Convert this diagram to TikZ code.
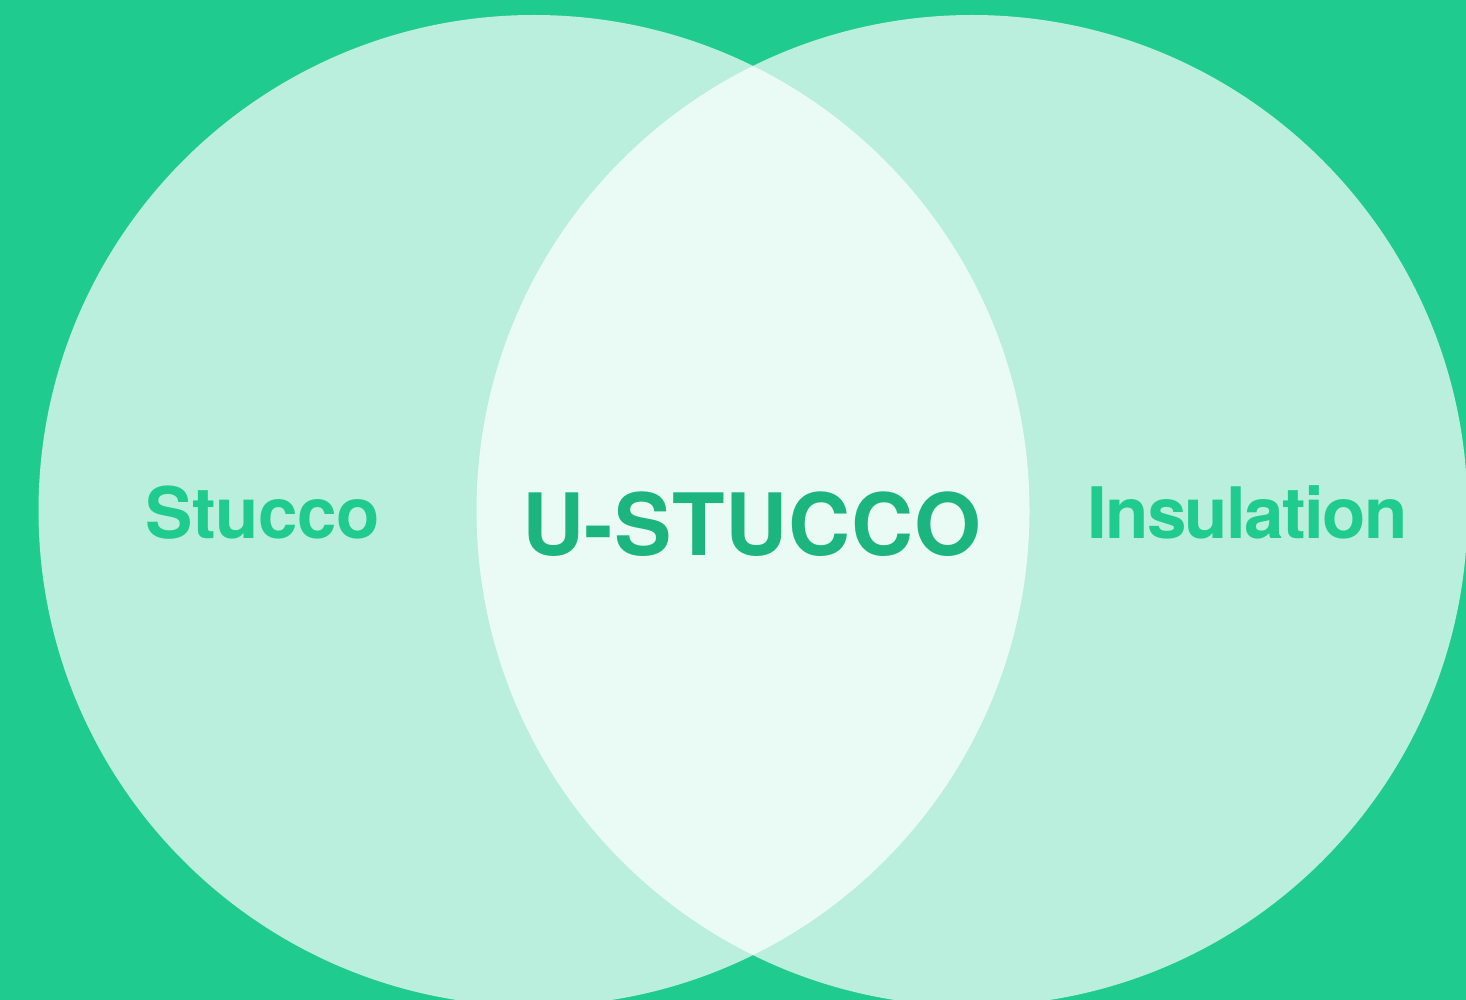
\documentclass[tikz,border=0pt]{standalone}
\usepackage{fontspec}
\setmainfont{TeX Gyre Heros}
\definecolor{bggreen}{HTML}{20CB8F}
\definecolor{circlefill}{HTML}{B9EFDC}
\definecolor{lensfill}{HTML}{EAFBF5}
\definecolor{textgreen}{HTML}{20CB8F}
\definecolor{darkgreen}{HTML}{1CB580}
\tikzset{
  setlabel/.style={anchor=base, inner sep=0pt, text=textgreen, font=\bfseries\fontsize{71}{71}\selectfont},
  mainlabel/.style={anchor=base, inner sep=0pt, text=darkgreen, font=\bfseries\fontsize{86}{86}\selectfont}
}
\begin{document}
\begin{tikzpicture}[x=1pt,y=-1pt]
\useasboundingbox (0,0) rectangle (1466,1000);
\fill[bggreen] (0,0) rectangle (1466,1000);
\begin{scope}
\clip (0,0) rectangle (1466,1000);
\fill[circlefill] (534,510.5) circle[radius=495.5];
\fill[circlefill] (972,510.5) circle[radius=495.5];
\begin{scope}
\clip (534,510.5) circle[radius=495.5];
\fill[lensfill] (972,510.5) circle[radius=495.5];
\end{scope}
\end{scope}
\node[setlabel] (stucco) at (262.5,538) {\addfontfeatures{LetterSpace=-0.85}Stucco};
\node[mainlabel] (ustucco) at (751.5,555) {\addfontfeatures{LetterSpace=1.0}U-STUCCO};
\node[setlabel] (insulation) at (1247.5,538) {\addfontfeatures{LetterSpace=-2.35}Insulation};
\end{tikzpicture}
\end{document}
